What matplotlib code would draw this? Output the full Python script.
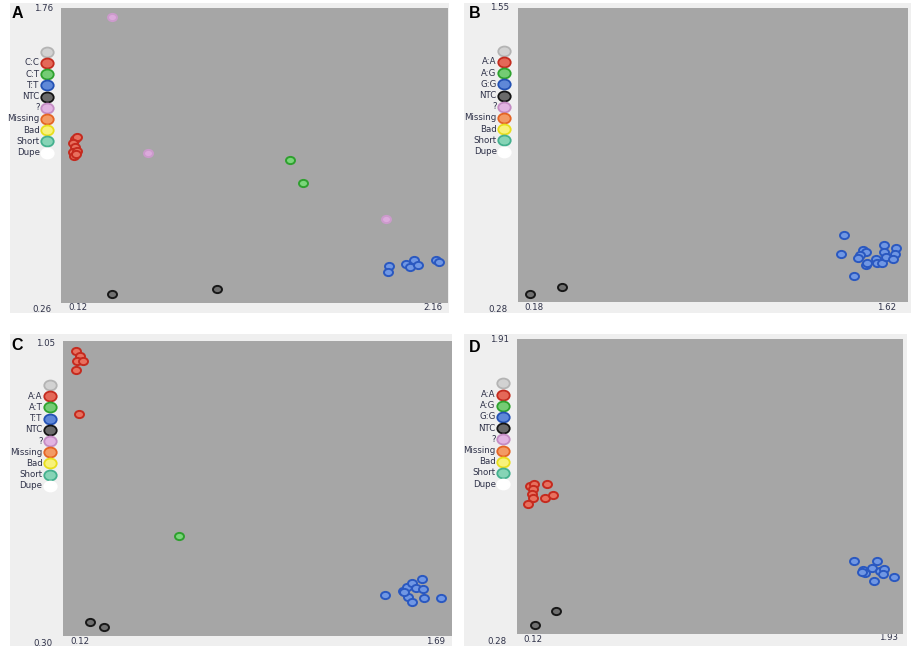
import numpy as np
import matplotlib
matplotlib.use("Agg")
import matplotlib.pyplot as plt
from matplotlib.patches import Rectangle
from matplotlib.path import Path
from matplotlib.transforms import Affine2D

W, H = 911, 652

# ---- data ----
# panel A  (C:C / C:T / T:T)
a_xlim = (0.12, 2.16)
a_ylim = (0.26, 1.76)
a_red_x = [0.194, 0.204, 0.183, 0.194, 0.183, 0.204, 0.189, 0.199]
a_red_y = [1.094, 1.104, 1.073, 1.053, 1.028, 1.033, 1.007, 1.018]
a_green_x = [1.327, 1.396]
a_green_y = [0.987, 0.870]
a_blue_x = [1.849, 1.844, 1.938, 1.960, 1.981, 2.002, 2.097, 2.112]
a_blue_y = [0.448, 0.418, 0.458, 0.443, 0.479, 0.453, 0.479, 0.468]
a_black_x = [0.389, 0.942]
a_black_y = [0.306, 0.331]
a_pink_x = [0.389, 0.579, 1.833]
a_pink_y = [1.714, 1.023, 0.687]

# panel B  (A:A / A:G / G:G)
b_xlim = (0.18, 1.62)
b_ylim = (0.28, 1.55)
b_blue_x = [1.384, 1.373, 1.421, 1.454, 1.465, 1.443, 1.435, 1.465, 1.502,
            1.505, 1.524, 1.531, 1.531, 1.539, 1.576, 1.572, 1.565, 1.469]
b_blue_y = [0.569, 0.487, 0.392, 0.505, 0.496, 0.483, 0.470, 0.440, 0.466,
            0.448, 0.448, 0.526, 0.496, 0.474, 0.513, 0.487, 0.466, 0.448]
b_black_x = [0.224, 0.342]
b_black_y = [0.314, 0.345]

# panel C  (A:A / A:T / T:T)
c_xlim = (0.12, 1.69)
c_ylim = (0.30, 1.05)
c_red_x = [0.172, 0.189, 0.177, 0.201, 0.172, 0.185]
c_red_y = [1.025, 1.012, 0.999, 0.999, 0.976, 0.864]
c_green_x = [0.589]
c_green_y = [0.555]
c_blue_x = [1.420, 1.491, 1.510, 1.530, 1.568, 1.545, 1.574, 1.512, 1.527,
            1.578, 1.646, 1.496]
c_blue_y = [0.403, 0.415, 0.425, 0.436, 0.444, 0.423, 0.420, 0.400, 0.387,
            0.397, 0.397, 0.413]
c_black_x = [0.229, 0.284]
c_black_y = [0.336, 0.322]

# panel D  (A:A / A:G / G:G)
d_xlim = (0.12, 1.93)
d_ylim = (0.28, 1.91)
d_red_x = [0.181, 0.200, 0.196, 0.189, 0.194, 0.173, 0.259, 0.251, 0.290]
d_red_y = [1.099, 1.107, 1.080, 1.052, 1.033, 0.997, 1.107, 1.033, 1.050]
d_blue_x = [1.700, 1.809, 1.741, 1.752, 1.783, 1.822, 1.841, 1.835, 1.794,
            1.888, 1.736]
d_blue_y = [0.682, 0.682, 0.634, 0.616, 0.646, 0.630, 0.638, 0.612, 0.573,
            0.595, 0.624]
d_black_x = [0.301, 0.204]
d_black_y = [0.407, 0.328]

legend_a = ["", "C:C", "C:T", "T:T", "NTC", "?", "Missing", "Bad", "Short", "Dupe"]
legend_b = ["", "A:A", "A:G", "G:G", "NTC", "?", "Missing", "Bad", "Short", "Dupe"]
legend_c = ["", "A:A", "A:T", "T:T", "NTC", "?", "Missing", "Bad", "Short", "Dupe"]
legend_d = ["", "A:A", "A:G", "G:G", "NTC", "?", "Missing", "Bad", "Short", "Dupe"]

# fill / edge colours for the legend dots (same order as labels)
leg_fill = ["#d2d2d2", "#e46858", "#74cc74", "#5f88d8", "#6a6a6a", "#e2b4e2",
            "#f39a64", "#f8f27a", "#86d4b6", "#ffffff"]
leg_edge = ["#b4b4b4", "#c42c20", "#2ea22e", "#2452b4", "#141414", "#c48cc4",
            "#e46424", "#e8de1c", "#44b08e", "#ffffff"]

col = {
    "red": ("#e8705e", "#c52a1e"),
    "green": ("#7ad67a", "#2ea02e"),
    "blue": ("#7097e4", "#2a58c0"),
    "black": ("#707070", "#181818"),
    "pink": ("#dcaadc", "#cc9acc"),
}

# ellipse marker (dots are a bit wider than tall)
ell = Path.unit_circle().transformed(Affine2D().scale(1.25, 1.0))

LIGHT = "#efefef"
PLOT = "#a6a6a6"
TXT = "#2e3148"

fig = plt.figure(figsize=(W / 100, H / 100), dpi=100)
bg = fig.add_axes([0, 0, 1, 1], zorder=0)
bg.set_xlim(0, W)
bg.set_ylim(H, 0)
bg.axis("off")


def frac(x0, y0, x1, y1):
    return [x0 / W, 1 - y1 / H, (x1 - x0) / W, (y1 - y0) / H]


panels = [
    dict(letter="A", box=(10, 3, 449, 313), plot=(61, 8, 448, 303),
         xlim=a_xlim, ylim=a_ylim, legend=legend_a, leg=(47.3, 51.7),
         series=[("red", a_red_x, a_red_y), ("green", a_green_x, a_green_y),
                 ("blue", a_blue_x, a_blue_y), ("black", a_black_x, a_black_y),
                 ("pink", a_pink_x, a_pink_y)],
         lp=(17.5, 13), ytop=(44, 8.5), ybot=(42, 310), xl=(78, 308), xr=(433, 308)),
    dict(letter="B", box=(464, 3, 911, 313), plot=(518, 8, 908, 302),
         xlim=b_xlim, ylim=b_ylim, legend=legend_b, leg=(504.3, 50.7),
         series=[("blue", b_blue_x, b_blue_y), ("black", b_black_x, b_black_y)],
         lp=(475, 13), ytop=(500, 7), ybot=(498, 310), xl=(534, 308), xr=(887, 308)),
    dict(letter="C", box=(10, 334, 452, 646), plot=(63, 341, 452, 636),
         xlim=c_xlim, ylim=c_ylim, legend=legend_c, leg=(50, 385),
         series=[("red", c_red_x, c_red_y), ("green", c_green_x, c_green_y),
                 ("blue", c_blue_x, c_blue_y), ("black", c_black_x, c_black_y)],
         lp=(17, 346), ytop=(46, 343), ybot=(43, 644), xl=(80, 641), xr=(436, 641)),
    dict(letter="D", box=(464, 334, 907, 646), plot=(517, 339, 903, 634),
         xlim=d_xlim, ylim=d_ylim, legend=legend_d, leg=(503.3, 383.3),
         series=[("red", d_red_x, d_red_y), ("blue", d_blue_x, d_blue_y),
                 ("black", d_black_x, d_black_y)],
         lp=(475, 347), ytop=(500, 340), ybot=(497, 641), xl=(533, 639), xr=(889, 638)),
]

for p in panels:
    x0, y0, x1, y1 = p["box"]
    bg.add_patch(Rectangle((x0, y0), x1 - x0, y1 - y0, facecolor=LIGHT,
                           edgecolor="none"))

    ax = fig.add_axes(frac(*p["plot"]), zorder=1)
    ax.set_facecolor(PLOT)
    ax.set_xlim(*p["xlim"])
    ax.set_ylim(*p["ylim"])
    ax.set_xticks([])
    ax.set_yticks([])
    for s in ax.spines.values():
        s.set_visible(False)
    for name, xs, ys in p["series"]:
        fc, ec = col[name]
        ax.scatter(xs, ys, s=42, marker=ell, facecolor=fc, edgecolor=ec,
                   linewidth=1.4, zorder=3)

    # legend column
    lx, ly = p["leg"]
    for i, lab in enumerate(p["legend"]):
        yy = ly + i * 11.2
        bg.scatter([lx], [yy], s=80, marker=ell, facecolor=leg_fill[i],
                   edgecolor=leg_edge[i], linewidth=1.3, zorder=3)
        if lab:
            bg.text(lx - 7.5, yy, lab, ha="right", va="center", fontsize=6.2,
                    color=TXT)

    # axis range labels
    lo_x, hi_x = p["xlim"]
    lo_y, hi_y = p["ylim"]
    for (tx, ty), val in [(p["ytop"], hi_y), (p["ybot"], lo_y),
                          (p["xl"], lo_x), (p["xr"], hi_x)]:
        bg.text(tx, ty, f"{val:.2f}", ha="center", va="center", fontsize=6.2,
                color=TXT)

    bg.text(p["lp"][0], p["lp"][1], p["letter"], ha="center", va="center",
            fontsize=11.5, fontweight="bold", family="Liberation Sans",
            color="black")

fig.savefig("out.png", dpi=100)
